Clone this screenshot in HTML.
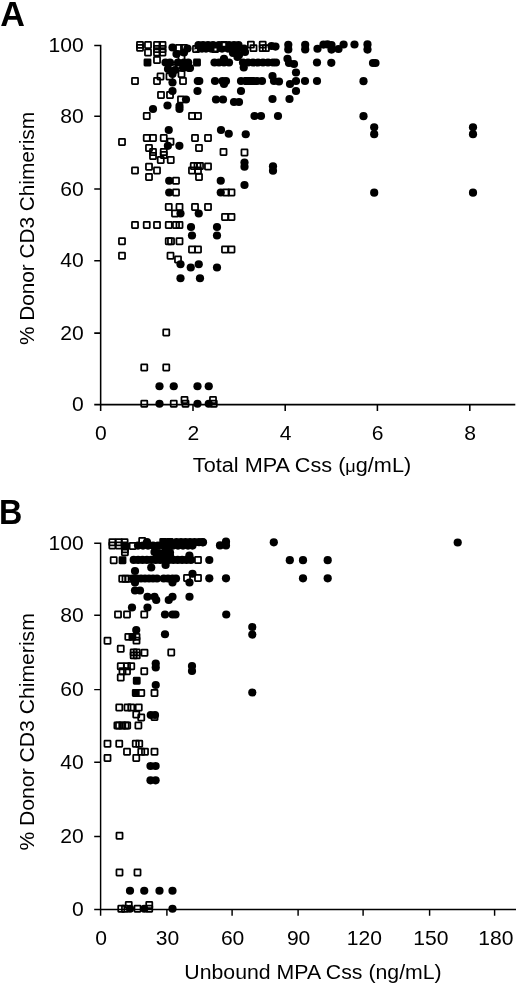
<!DOCTYPE html>
<html><head><meta charset="utf-8"><title>Figure</title>
<style>html,body{margin:0;padding:0;background:#fff}svg{display:block;will-change:transform}text{font-family:"Liberation Sans",sans-serif;fill:#000}</style></head><body>
<svg width="520" height="985" viewBox="0 0 520 985">
<rect width="520" height="985" fill="#fff"/>
<text transform="translate(0.3,25.5) scale(0.99,1)" font-size="34.5" text-anchor="start" font-weight="bold">A</text>
<text transform="translate(-1.0,524.3) scale(0.935,1)" font-size="34.5" text-anchor="start" font-weight="bold">B</text>
<path d="M100.65 44.73V410.90M94.25 404.6H515.3M94.25 45.5H100.65M94.25 116.2H100.65M94.25 188.9H100.65M94.25 260.8H100.65M94.25 333.1H100.65M193 404.6V410.90M285.2 404.6V410.90M377.4 404.6V410.90M469.8 404.6V410.90" stroke="#000" stroke-width="1.55" fill="none"/>
<text transform="translate(83.8,51.5) scale(1.055,1)" font-size="20" text-anchor="end">100</text>
<text transform="translate(83.8,122.8) scale(1.055,1)" font-size="20" text-anchor="end">80</text>
<text transform="translate(83.8,195.5) scale(1.055,1)" font-size="20" text-anchor="end">60</text>
<text transform="translate(83.8,267.4) scale(1.055,1)" font-size="20" text-anchor="end">40</text>
<text transform="translate(83.8,339.7) scale(1.055,1)" font-size="20" text-anchor="end">20</text>
<text transform="translate(83.8,411.2) scale(1.055,1)" font-size="20" text-anchor="end">0</text>
<text transform="translate(100.95,440.3) scale(1.055,1)" font-size="20" text-anchor="middle">0</text>
<text transform="translate(193.3,440.3) scale(1.055,1)" font-size="20" text-anchor="middle">2</text>
<text transform="translate(285.5,440.3) scale(1.055,1)" font-size="20" text-anchor="middle">4</text>
<text transform="translate(377.7,440.3) scale(1.055,1)" font-size="20" text-anchor="middle">6</text>
<text transform="translate(470.1,440.3) scale(1.055,1)" font-size="20" text-anchor="middle">8</text>
<text transform="translate(302,471.8) scale(1.095,1)" font-size="19.8" text-anchor="middle">Total MPA Css (<tspan font-size="16.5">μ</tspan>g/mL)</text>
<text transform="translate(33.6,228.5) rotate(-90) scale(1.013,1)" font-size="20.5" text-anchor="middle">% Donor CD3 Chimerism</text>
<path d="M100.6 542.48V915.80M94.20 909.4H516M94.20 543.2H100.6M94.20 615.25H100.6M94.20 689.6H100.6M94.20 762.25H100.6M94.20 836.5H100.6M166.9 909.4V915.80M232.1 909.4V915.80M298.1 909.4V915.80M363.1 909.4V915.80M429.6 909.4V915.80M494.6 909.4V915.80" stroke="#000" stroke-width="1.45" fill="none"/>
<text transform="translate(83.8,549.8) scale(1.055,1)" font-size="20" text-anchor="end">100</text>
<text transform="translate(83.8,621.9) scale(1.055,1)" font-size="20" text-anchor="end">80</text>
<text transform="translate(83.8,696.2) scale(1.055,1)" font-size="20" text-anchor="end">60</text>
<text transform="translate(83.8,768.9) scale(1.055,1)" font-size="20" text-anchor="end">40</text>
<text transform="translate(83.8,843.1) scale(1.055,1)" font-size="20" text-anchor="end">20</text>
<text transform="translate(83.8,916.0) scale(1.055,1)" font-size="20" text-anchor="end">0</text>
<text transform="translate(101.1,945.3) scale(1.055,1)" font-size="20" text-anchor="middle">0</text>
<text transform="translate(167.4,945.3) scale(1.055,1)" font-size="20" text-anchor="middle">30</text>
<text transform="translate(232.6,945.3) scale(1.055,1)" font-size="20" text-anchor="middle">60</text>
<text transform="translate(298.6,945.3) scale(1.055,1)" font-size="20" text-anchor="middle">90</text>
<text transform="translate(364.40000000000003,945.3) scale(1.055,1)" font-size="20" text-anchor="middle">120</text>
<text transform="translate(430.90000000000003,945.3) scale(1.055,1)" font-size="20" text-anchor="middle">150</text>
<text transform="translate(495.90000000000003,945.3) scale(1.055,1)" font-size="20" text-anchor="middle">180</text>
<text transform="translate(313,978.8) scale(1.075,1)" font-size="19.8" text-anchor="middle">Unbound MPA Css (ng/mL)</text>
<text transform="translate(34.2,731.9) rotate(-90) scale(1.013,1)" font-size="20.9" text-anchor="middle">% Donor CD3 Chimerism</text>
<g id="A">
<rect x="136.95" y="41.85" width="6.1" height="6.1" rx="0.5" fill="none" stroke="#000" stroke-width="1.75"/>
<rect x="136.95" y="44.75" width="6.1" height="6.1" rx="0.5" fill="none" stroke="#000" stroke-width="1.75"/>
<rect x="144.95" y="41.95" width="6.1" height="6.1" rx="0.5" fill="none" stroke="#000" stroke-width="1.75"/>
<rect x="144.95" y="49.45" width="6.1" height="6.1" rx="0.5" fill="none" stroke="#000" stroke-width="1.75"/>
<rect x="153.95" y="41.95" width="6.1" height="6.1" rx="0.5" fill="none" stroke="#000" stroke-width="1.75"/>
<rect x="153.95" y="45.95" width="6.1" height="6.1" rx="0.5" fill="none" stroke="#000" stroke-width="1.75"/>
<rect x="153.95" y="49.45" width="6.1" height="6.1" rx="0.5" fill="none" stroke="#000" stroke-width="1.75"/>
<rect x="153.95" y="56.95" width="6.1" height="6.1" rx="0.5" fill="none" stroke="#000" stroke-width="1.75"/>
<rect x="159.45" y="41.95" width="6.1" height="6.1" rx="0.5" fill="none" stroke="#000" stroke-width="1.75"/>
<rect x="159.45" y="45.95" width="6.1" height="6.1" rx="0.5" fill="none" stroke="#000" stroke-width="1.75"/>
<rect x="159.45" y="49.45" width="6.1" height="6.1" rx="0.5" fill="none" stroke="#000" stroke-width="1.75"/>
<rect x="175.95" y="44.95" width="6.1" height="6.1" rx="0.5" fill="none" stroke="#000" stroke-width="1.75"/>
<rect x="180.95" y="44.95" width="6.1" height="6.1" rx="0.5" fill="none" stroke="#000" stroke-width="1.75"/>
<rect x="178.45" y="54.45" width="6.1" height="6.1" rx="0.5" fill="none" stroke="#000" stroke-width="1.75"/>
<rect x="170.45" y="64.95" width="6.1" height="6.1" rx="0.5" fill="none" stroke="#000" stroke-width="1.75"/>
<rect x="175.95" y="61.95" width="6.1" height="6.1" rx="0.5" fill="none" stroke="#000" stroke-width="1.75"/>
<rect x="131.95" y="77.95" width="6.1" height="6.1" rx="0.5" fill="none" stroke="#000" stroke-width="1.75"/>
<rect x="153.95" y="77.95" width="6.1" height="6.1" rx="0.5" fill="none" stroke="#000" stroke-width="1.75"/>
<rect x="157.45" y="73.45" width="6.1" height="6.1" rx="0.5" fill="none" stroke="#000" stroke-width="1.75"/>
<rect x="166.45" y="73.45" width="6.1" height="6.1" rx="0.5" fill="none" stroke="#000" stroke-width="1.75"/>
<rect x="178.45" y="70.95" width="6.1" height="6.1" rx="0.5" fill="none" stroke="#000" stroke-width="1.75"/>
<rect x="179.95" y="77.95" width="6.1" height="6.1" rx="0.5" fill="none" stroke="#000" stroke-width="1.75"/>
<rect x="157.95" y="91.95" width="6.1" height="6.1" rx="0.5" fill="none" stroke="#000" stroke-width="1.75"/>
<rect x="166.95" y="91.95" width="6.1" height="6.1" rx="0.5" fill="none" stroke="#000" stroke-width="1.75"/>
<rect x="177.95" y="96.45" width="6.1" height="6.1" rx="0.5" fill="none" stroke="#000" stroke-width="1.75"/>
<rect x="143.70" y="112.95" width="6.1" height="6.1" rx="0.5" fill="none" stroke="#000" stroke-width="1.75"/>
<rect x="188.95" y="112.95" width="6.1" height="6.1" rx="0.5" fill="none" stroke="#000" stroke-width="1.75"/>
<rect x="194.95" y="112.95" width="6.1" height="6.1" rx="0.5" fill="none" stroke="#000" stroke-width="1.75"/>
<rect x="247.85" y="41.55" width="6.1" height="6.1" rx="0.5" fill="none" stroke="#000" stroke-width="1.75"/>
<rect x="250.45" y="45.05" width="6.1" height="6.1" rx="0.5" fill="none" stroke="#000" stroke-width="1.75"/>
<rect x="259.65" y="41.55" width="6.1" height="6.1" rx="0.5" fill="none" stroke="#000" stroke-width="1.75"/>
<rect x="259.65" y="45.05" width="6.1" height="6.1" rx="0.5" fill="none" stroke="#000" stroke-width="1.75"/>
<rect x="262.85" y="45.05" width="6.1" height="6.1" rx="0.5" fill="none" stroke="#000" stroke-width="1.75"/>
<rect x="192.95" y="45.95" width="6.1" height="6.1" rx="0.5" fill="none" stroke="#000" stroke-width="1.75"/>
<rect x="211.95" y="45.95" width="6.1" height="6.1" rx="0.5" fill="none" stroke="#000" stroke-width="1.75"/>
<rect x="220.95" y="41.95" width="6.1" height="6.1" rx="0.5" fill="none" stroke="#000" stroke-width="1.75"/>
<rect x="243.95" y="77.95" width="6.1" height="6.1" rx="0.5" fill="none" stroke="#000" stroke-width="1.75"/>
<rect x="247.95" y="77.95" width="6.1" height="6.1" rx="0.5" fill="none" stroke="#000" stroke-width="1.75"/>
<rect x="118.95" y="138.95" width="6.1" height="6.1" rx="0.5" fill="none" stroke="#000" stroke-width="1.75"/>
<rect x="143.70" y="134.95" width="6.1" height="6.1" rx="0.5" fill="none" stroke="#000" stroke-width="1.75"/>
<rect x="149.95" y="134.95" width="6.1" height="6.1" rx="0.5" fill="none" stroke="#000" stroke-width="1.75"/>
<rect x="160.70" y="134.95" width="6.1" height="6.1" rx="0.5" fill="none" stroke="#000" stroke-width="1.75"/>
<rect x="191.95" y="134.95" width="6.1" height="6.1" rx="0.5" fill="none" stroke="#000" stroke-width="1.75"/>
<rect x="204.95" y="134.95" width="6.1" height="6.1" rx="0.5" fill="none" stroke="#000" stroke-width="1.75"/>
<rect x="167.45" y="138.70" width="6.1" height="6.1" rx="0.5" fill="none" stroke="#000" stroke-width="1.75"/>
<rect x="145.95" y="144.95" width="6.1" height="6.1" rx="0.5" fill="none" stroke="#000" stroke-width="1.75"/>
<rect x="195.95" y="144.95" width="6.1" height="6.1" rx="0.5" fill="none" stroke="#000" stroke-width="1.75"/>
<rect x="149.95" y="148.95" width="6.1" height="6.1" rx="0.5" fill="none" stroke="#000" stroke-width="1.75"/>
<rect x="160.70" y="148.95" width="6.1" height="6.1" rx="0.5" fill="none" stroke="#000" stroke-width="1.75"/>
<rect x="220.45" y="148.95" width="6.1" height="6.1" rx="0.5" fill="none" stroke="#000" stroke-width="1.75"/>
<rect x="241.45" y="149.45" width="6.1" height="6.1" rx="0.5" fill="none" stroke="#000" stroke-width="1.75"/>
<rect x="149.95" y="152.95" width="6.1" height="6.1" rx="0.5" fill="none" stroke="#000" stroke-width="1.75"/>
<rect x="160.70" y="151.95" width="6.1" height="6.1" rx="0.5" fill="none" stroke="#000" stroke-width="1.75"/>
<rect x="157.70" y="156.95" width="6.1" height="6.1" rx="0.5" fill="none" stroke="#000" stroke-width="1.75"/>
<rect x="167.70" y="156.95" width="6.1" height="6.1" rx="0.5" fill="none" stroke="#000" stroke-width="1.75"/>
<rect x="145.95" y="163.70" width="6.1" height="6.1" rx="0.5" fill="none" stroke="#000" stroke-width="1.75"/>
<rect x="190.70" y="162.95" width="6.1" height="6.1" rx="0.5" fill="none" stroke="#000" stroke-width="1.75"/>
<rect x="194.45" y="162.95" width="6.1" height="6.1" rx="0.5" fill="none" stroke="#000" stroke-width="1.75"/>
<rect x="196.95" y="162.95" width="6.1" height="6.1" rx="0.5" fill="none" stroke="#000" stroke-width="1.75"/>
<rect x="204.95" y="163.45" width="6.1" height="6.1" rx="0.5" fill="none" stroke="#000" stroke-width="1.75"/>
<rect x="131.95" y="167.45" width="6.1" height="6.1" rx="0.5" fill="none" stroke="#000" stroke-width="1.75"/>
<rect x="153.95" y="167.45" width="6.1" height="6.1" rx="0.5" fill="none" stroke="#000" stroke-width="1.75"/>
<rect x="188.95" y="167.45" width="6.1" height="6.1" rx="0.5" fill="none" stroke="#000" stroke-width="1.75"/>
<rect x="194.95" y="167.45" width="6.1" height="6.1" rx="0.5" fill="none" stroke="#000" stroke-width="1.75"/>
<rect x="145.95" y="173.95" width="6.1" height="6.1" rx="0.5" fill="none" stroke="#000" stroke-width="1.75"/>
<rect x="195.95" y="173.95" width="6.1" height="6.1" rx="0.5" fill="none" stroke="#000" stroke-width="1.75"/>
<rect x="172.95" y="177.70" width="6.1" height="6.1" rx="0.5" fill="none" stroke="#000" stroke-width="1.75"/>
<rect x="172.95" y="189.45" width="6.1" height="6.1" rx="0.5" fill="none" stroke="#000" stroke-width="1.75"/>
<rect x="222.95" y="189.45" width="6.1" height="6.1" rx="0.5" fill="none" stroke="#000" stroke-width="1.75"/>
<rect x="228.45" y="189.45" width="6.1" height="6.1" rx="0.5" fill="none" stroke="#000" stroke-width="1.75"/>
<rect x="165.70" y="203.95" width="6.1" height="6.1" rx="0.5" fill="none" stroke="#000" stroke-width="1.75"/>
<rect x="176.45" y="203.95" width="6.1" height="6.1" rx="0.5" fill="none" stroke="#000" stroke-width="1.75"/>
<rect x="191.95" y="203.95" width="6.1" height="6.1" rx="0.5" fill="none" stroke="#000" stroke-width="1.75"/>
<rect x="204.95" y="203.95" width="6.1" height="6.1" rx="0.5" fill="none" stroke="#000" stroke-width="1.75"/>
<rect x="171.95" y="210.45" width="6.1" height="6.1" rx="0.5" fill="none" stroke="#000" stroke-width="1.75"/>
<rect x="221.95" y="213.95" width="6.1" height="6.1" rx="0.5" fill="none" stroke="#000" stroke-width="1.75"/>
<rect x="228.45" y="213.95" width="6.1" height="6.1" rx="0.5" fill="none" stroke="#000" stroke-width="1.75"/>
<rect x="131.95" y="221.95" width="6.1" height="6.1" rx="0.5" fill="none" stroke="#000" stroke-width="1.75"/>
<rect x="143.70" y="221.95" width="6.1" height="6.1" rx="0.5" fill="none" stroke="#000" stroke-width="1.75"/>
<rect x="153.95" y="221.95" width="6.1" height="6.1" rx="0.5" fill="none" stroke="#000" stroke-width="1.75"/>
<rect x="165.70" y="221.95" width="6.1" height="6.1" rx="0.5" fill="none" stroke="#000" stroke-width="1.75"/>
<rect x="172.95" y="221.95" width="6.1" height="6.1" rx="0.5" fill="none" stroke="#000" stroke-width="1.75"/>
<rect x="176.45" y="221.95" width="6.1" height="6.1" rx="0.5" fill="none" stroke="#000" stroke-width="1.75"/>
<rect x="118.95" y="238.20" width="6.1" height="6.1" rx="0.5" fill="none" stroke="#000" stroke-width="1.75"/>
<rect x="165.70" y="238.20" width="6.1" height="6.1" rx="0.5" fill="none" stroke="#000" stroke-width="1.75"/>
<rect x="167.95" y="238.20" width="6.1" height="6.1" rx="0.5" fill="none" stroke="#000" stroke-width="1.75"/>
<rect x="176.45" y="238.20" width="6.1" height="6.1" rx="0.5" fill="none" stroke="#000" stroke-width="1.75"/>
<rect x="188.95" y="246.45" width="6.1" height="6.1" rx="0.5" fill="none" stroke="#000" stroke-width="1.75"/>
<rect x="194.95" y="246.45" width="6.1" height="6.1" rx="0.5" fill="none" stroke="#000" stroke-width="1.75"/>
<rect x="221.95" y="246.45" width="6.1" height="6.1" rx="0.5" fill="none" stroke="#000" stroke-width="1.75"/>
<rect x="228.45" y="246.45" width="6.1" height="6.1" rx="0.5" fill="none" stroke="#000" stroke-width="1.75"/>
<rect x="118.95" y="252.70" width="6.1" height="6.1" rx="0.5" fill="none" stroke="#000" stroke-width="1.75"/>
<rect x="167.45" y="252.70" width="6.1" height="6.1" rx="0.5" fill="none" stroke="#000" stroke-width="1.75"/>
<rect x="174.95" y="256.45" width="6.1" height="6.1" rx="0.5" fill="none" stroke="#000" stroke-width="1.75"/>
<rect x="163.20" y="329.45" width="6.1" height="6.1" rx="0.5" fill="none" stroke="#000" stroke-width="1.75"/>
<rect x="141.20" y="364.45" width="6.1" height="6.1" rx="0.5" fill="none" stroke="#000" stroke-width="1.75"/>
<rect x="163.20" y="364.45" width="6.1" height="6.1" rx="0.5" fill="none" stroke="#000" stroke-width="1.75"/>
<rect x="141.20" y="400.70" width="6.1" height="6.1" rx="0.5" fill="none" stroke="#000" stroke-width="1.75"/>
<rect x="170.70" y="400.70" width="6.1" height="6.1" rx="0.5" fill="none" stroke="#000" stroke-width="1.75"/>
<rect x="182.45" y="400.70" width="6.1" height="6.1" rx="0.5" fill="none" stroke="#000" stroke-width="1.75"/>
<rect x="210.70" y="400.70" width="6.1" height="6.1" rx="0.5" fill="none" stroke="#000" stroke-width="1.75"/>
<rect x="181.45" y="396.95" width="6.1" height="6.1" rx="0.5" fill="none" stroke="#000" stroke-width="1.75"/>
<rect x="209.95" y="396.95" width="6.1" height="6.1" rx="0.5" fill="none" stroke="#000" stroke-width="1.75"/>
<rect x="144.45" y="59.45" width="6.1" height="6.1" rx="0.5" fill="#000" stroke="#000" stroke-width="1.75"/>
<rect x="193.95" y="59.45" width="6.1" height="6.1" rx="0.5" fill="#000" stroke="#000" stroke-width="1.75"/>
<circle cx="172.50" cy="47.50" r="4.1"/>
<circle cx="187.50" cy="48.50" r="4.1"/>
<circle cx="176.50" cy="54.00" r="4.1"/>
<circle cx="184.00" cy="52.50" r="4.1"/>
<circle cx="198.50" cy="45.00" r="4.1"/>
<circle cx="203.00" cy="45.00" r="4.1"/>
<circle cx="208.00" cy="45.00" r="4.1"/>
<circle cx="213.00" cy="45.00" r="4.1"/>
<circle cx="219.00" cy="45.00" r="4.1"/>
<circle cx="224.00" cy="45.00" r="4.1"/>
<circle cx="229.00" cy="45.00" r="4.1"/>
<circle cx="234.00" cy="45.00" r="4.1"/>
<circle cx="238.50" cy="45.00" r="4.1"/>
<circle cx="198.50" cy="48.60" r="4.1"/>
<circle cx="202.00" cy="48.60" r="4.1"/>
<circle cx="206.00" cy="48.60" r="4.1"/>
<circle cx="211.00" cy="48.60" r="4.1"/>
<circle cx="217.00" cy="48.60" r="4.1"/>
<circle cx="222.00" cy="48.60" r="4.1"/>
<circle cx="228.00" cy="48.60" r="4.1"/>
<circle cx="233.00" cy="48.60" r="4.1"/>
<circle cx="238.00" cy="48.60" r="4.1"/>
<circle cx="244.00" cy="48.60" r="4.1"/>
<circle cx="233.00" cy="53.00" r="4.1"/>
<circle cx="239.00" cy="55.00" r="4.1"/>
<circle cx="245.00" cy="52.00" r="4.1"/>
<circle cx="237.50" cy="57.00" r="4.1"/>
<circle cx="271.50" cy="46.00" r="4.1"/>
<circle cx="275.50" cy="46.60" r="4.1"/>
<circle cx="288.30" cy="44.80" r="4.1"/>
<circle cx="288.30" cy="49.40" r="4.1"/>
<circle cx="305.20" cy="44.80" r="4.1"/>
<circle cx="305.20" cy="49.40" r="4.1"/>
<circle cx="317.50" cy="48.75" r="4.1"/>
<circle cx="323.50" cy="44.60" r="4.1"/>
<circle cx="327.50" cy="44.40" r="4.1"/>
<circle cx="331.50" cy="45.00" r="4.1"/>
<circle cx="331.50" cy="49.60" r="4.1"/>
<circle cx="338.50" cy="49.00" r="4.1"/>
<circle cx="343.60" cy="44.50" r="4.1"/>
<circle cx="354.50" cy="44.50" r="4.1"/>
<circle cx="367.50" cy="44.40" r="4.1"/>
<circle cx="367.50" cy="49.60" r="4.1"/>
<circle cx="165.50" cy="62.50" r="4.1"/>
<circle cx="170.00" cy="62.50" r="4.1"/>
<circle cx="178.00" cy="62.50" r="4.1"/>
<circle cx="184.00" cy="62.50" r="4.1"/>
<circle cx="188.20" cy="62.50" r="4.1"/>
<circle cx="214.50" cy="62.50" r="4.1"/>
<circle cx="219.00" cy="62.50" r="4.1"/>
<circle cx="224.00" cy="62.50" r="4.1"/>
<circle cx="229.00" cy="62.50" r="4.1"/>
<circle cx="243.00" cy="62.50" r="4.1"/>
<circle cx="248.00" cy="62.50" r="4.1"/>
<circle cx="253.00" cy="62.50" r="4.1"/>
<circle cx="258.00" cy="62.50" r="4.1"/>
<circle cx="263.00" cy="62.50" r="4.1"/>
<circle cx="268.00" cy="62.50" r="4.1"/>
<circle cx="273.00" cy="62.50" r="4.1"/>
<circle cx="276.00" cy="62.50" r="4.1"/>
<circle cx="224.00" cy="58.75" r="4.1"/>
<circle cx="243.75" cy="67.50" r="4.1"/>
<circle cx="190.00" cy="68.00" r="4.1"/>
<circle cx="287.50" cy="58.75" r="4.1"/>
<circle cx="289.00" cy="63.00" r="4.1"/>
<circle cx="294.00" cy="64.00" r="4.1"/>
<circle cx="317.00" cy="62.50" r="4.1"/>
<circle cx="331.30" cy="62.80" r="4.1"/>
<circle cx="373.00" cy="63.00" r="4.1"/>
<circle cx="375.50" cy="63.00" r="4.1"/>
<circle cx="168.00" cy="69.00" r="4.1"/>
<circle cx="175.00" cy="70.00" r="4.1"/>
<circle cx="183.00" cy="68.00" r="4.1"/>
<circle cx="189.00" cy="68.00" r="4.1"/>
<circle cx="172.50" cy="74.00" r="4.1"/>
<circle cx="172.50" cy="82.50" r="4.1"/>
<circle cx="296.00" cy="72.50" r="4.1"/>
<circle cx="272.50" cy="76.00" r="4.1"/>
<circle cx="197.80" cy="81.00" r="4.1"/>
<circle cx="199.30" cy="81.00" r="4.1"/>
<circle cx="248.00" cy="81.00" r="4.1"/>
<circle cx="253.00" cy="81.00" r="4.1"/>
<circle cx="215.00" cy="81.00" r="4.1"/>
<circle cx="222.50" cy="81.00" r="4.1"/>
<circle cx="226.00" cy="81.00" r="4.1"/>
<circle cx="224.00" cy="84.00" r="4.1"/>
<circle cx="241.00" cy="81.00" r="4.1"/>
<circle cx="257.00" cy="81.00" r="4.1"/>
<circle cx="262.00" cy="81.00" r="4.1"/>
<circle cx="274.00" cy="81.00" r="4.1"/>
<circle cx="279.00" cy="81.50" r="4.1"/>
<circle cx="290.00" cy="84.00" r="4.1"/>
<circle cx="296.00" cy="81.00" r="4.1"/>
<circle cx="305.00" cy="81.00" r="4.1"/>
<circle cx="317.00" cy="81.00" r="4.1"/>
<circle cx="363.50" cy="81.20" r="4.1"/>
<circle cx="172.50" cy="91.00" r="4.1"/>
<circle cx="197.50" cy="91.00" r="4.1"/>
<circle cx="241.00" cy="91.00" r="4.1"/>
<circle cx="296.00" cy="91.00" r="4.1"/>
<circle cx="186.00" cy="99.50" r="4.1"/>
<circle cx="216.00" cy="99.50" r="4.1"/>
<circle cx="223.00" cy="99.50" r="4.1"/>
<circle cx="272.50" cy="99.00" r="4.1"/>
<circle cx="289.50" cy="99.00" r="4.1"/>
<circle cx="234.00" cy="102.00" r="4.1"/>
<circle cx="239.00" cy="102.00" r="4.1"/>
<circle cx="167.50" cy="105.50" r="4.1"/>
<circle cx="179.50" cy="106.00" r="4.1"/>
<circle cx="179.50" cy="109.00" r="4.1"/>
<circle cx="153.00" cy="109.00" r="4.1"/>
<circle cx="254.50" cy="116.00" r="4.1"/>
<circle cx="261.00" cy="116.00" r="4.1"/>
<circle cx="278.00" cy="116.00" r="4.1"/>
<circle cx="363.50" cy="116.20" r="4.1"/>
<circle cx="168.75" cy="130.00" r="4.1"/>
<circle cx="221.00" cy="130.00" r="4.1"/>
<circle cx="228.75" cy="133.75" r="4.1"/>
<circle cx="245.75" cy="134.25" r="4.1"/>
<circle cx="374.20" cy="127.30" r="4.1"/>
<circle cx="374.20" cy="134.20" r="4.1"/>
<circle cx="473.00" cy="127.30" r="4.1"/>
<circle cx="473.00" cy="134.20" r="4.1"/>
<circle cx="374.20" cy="192.70" r="4.1"/>
<circle cx="473.00" cy="192.70" r="4.1"/>
<circle cx="167.90" cy="145.80" r="4.1"/>
<circle cx="179.40" cy="145.80" r="4.1"/>
<circle cx="244.50" cy="162.50" r="4.1"/>
<circle cx="244.50" cy="166.75" r="4.1"/>
<circle cx="273.00" cy="166.25" r="4.1"/>
<circle cx="273.00" cy="170.75" r="4.1"/>
<circle cx="169.20" cy="180.75" r="4.1"/>
<circle cx="220.75" cy="180.75" r="4.1"/>
<circle cx="244.50" cy="185.00" r="4.1"/>
<circle cx="169.20" cy="192.50" r="4.1"/>
<circle cx="220.75" cy="192.50" r="4.1"/>
<circle cx="180.50" cy="213.50" r="4.1"/>
<circle cx="198.75" cy="213.50" r="4.1"/>
<circle cx="191.00" cy="227.00" r="4.1"/>
<circle cx="217.00" cy="227.00" r="4.1"/>
<circle cx="192.00" cy="235.50" r="4.1"/>
<circle cx="217.00" cy="235.50" r="4.1"/>
<circle cx="180.50" cy="264.25" r="4.1"/>
<circle cx="198.75" cy="264.25" r="4.1"/>
<circle cx="190.75" cy="267.50" r="4.1"/>
<circle cx="217.00" cy="267.50" r="4.1"/>
<circle cx="180.50" cy="278.25" r="4.1"/>
<circle cx="200.00" cy="278.25" r="4.1"/>
<circle cx="159.50" cy="386.25" r="4.1"/>
<circle cx="173.75" cy="386.25" r="4.1"/>
<circle cx="197.50" cy="386.25" r="4.1"/>
<circle cx="208.75" cy="386.25" r="4.1"/>
<circle cx="159.50" cy="403.75" r="4.1"/>
<circle cx="197.50" cy="403.75" r="4.1"/>
<circle cx="208.75" cy="403.75" r="4.1"/>
</g><g id="B">
<rect x="109.30" y="539.15" width="6.1" height="6.1" rx="0.5" fill="none" stroke="#000" stroke-width="1.75"/>
<rect x="109.30" y="542.45" width="6.1" height="6.1" rx="0.5" fill="none" stroke="#000" stroke-width="1.75"/>
<rect x="115.75" y="539.15" width="6.1" height="6.1" rx="0.5" fill="none" stroke="#000" stroke-width="1.75"/>
<rect x="115.75" y="542.45" width="6.1" height="6.1" rx="0.5" fill="none" stroke="#000" stroke-width="1.75"/>
<rect x="121.55" y="539.15" width="6.1" height="6.1" rx="0.5" fill="none" stroke="#000" stroke-width="1.75"/>
<rect x="121.55" y="542.45" width="6.1" height="6.1" rx="0.5" fill="none" stroke="#000" stroke-width="1.75"/>
<rect x="129.65" y="542.95" width="6.1" height="6.1" rx="0.5" fill="none" stroke="#000" stroke-width="1.75"/>
<rect x="139.15" y="537.95" width="6.1" height="6.1" rx="0.5" fill="none" stroke="#000" stroke-width="1.75"/>
<rect x="121.85" y="546.35" width="6.1" height="6.1" rx="0.5" fill="none" stroke="#000" stroke-width="1.75"/>
<rect x="121.85" y="549.15" width="6.1" height="6.1" rx="0.5" fill="none" stroke="#000" stroke-width="1.75"/>
<rect x="110.65" y="557.15" width="6.1" height="6.1" rx="0.5" fill="none" stroke="#000" stroke-width="1.75"/>
<rect x="119.20" y="575.70" width="6.1" height="6.1" rx="0.5" fill="none" stroke="#000" stroke-width="1.75"/>
<rect x="122.45" y="575.70" width="6.1" height="6.1" rx="0.5" fill="none" stroke="#000" stroke-width="1.75"/>
<rect x="125.45" y="575.70" width="6.1" height="6.1" rx="0.5" fill="none" stroke="#000" stroke-width="1.75"/>
<rect x="194.95" y="556.95" width="6.1" height="6.1" rx="0.5" fill="none" stroke="#000" stroke-width="1.75"/>
<rect x="183.95" y="574.95" width="6.1" height="6.1" rx="0.5" fill="none" stroke="#000" stroke-width="1.75"/>
<rect x="194.95" y="574.95" width="6.1" height="6.1" rx="0.5" fill="none" stroke="#000" stroke-width="1.75"/>
<rect x="114.95" y="611.45" width="6.1" height="6.1" rx="0.5" fill="none" stroke="#000" stroke-width="1.75"/>
<rect x="123.95" y="611.45" width="6.1" height="6.1" rx="0.5" fill="none" stroke="#000" stroke-width="1.75"/>
<rect x="141.20" y="611.45" width="6.1" height="6.1" rx="0.5" fill="none" stroke="#000" stroke-width="1.75"/>
<rect x="125.25" y="633.75" width="6.1" height="6.1" rx="0.5" fill="none" stroke="#000" stroke-width="1.75"/>
<rect x="133.45" y="633.75" width="6.1" height="6.1" rx="0.5" fill="none" stroke="#000" stroke-width="1.75"/>
<rect x="104.45" y="637.70" width="6.1" height="6.1" rx="0.5" fill="none" stroke="#000" stroke-width="1.75"/>
<rect x="133.45" y="637.55" width="6.1" height="6.1" rx="0.5" fill="none" stroke="#000" stroke-width="1.75"/>
<rect x="117.70" y="645.70" width="6.1" height="6.1" rx="0.5" fill="none" stroke="#000" stroke-width="1.75"/>
<rect x="130.60" y="649.35" width="6.1" height="6.1" rx="0.5" fill="none" stroke="#000" stroke-width="1.75"/>
<rect x="133.70" y="649.35" width="6.1" height="6.1" rx="0.5" fill="none" stroke="#000" stroke-width="1.75"/>
<rect x="141.45" y="649.65" width="6.1" height="6.1" rx="0.5" fill="none" stroke="#000" stroke-width="1.75"/>
<rect x="168.20" y="649.45" width="6.1" height="6.1" rx="0.5" fill="none" stroke="#000" stroke-width="1.75"/>
<rect x="130.60" y="652.30" width="6.1" height="6.1" rx="0.5" fill="none" stroke="#000" stroke-width="1.75"/>
<rect x="133.70" y="652.30" width="6.1" height="6.1" rx="0.5" fill="none" stroke="#000" stroke-width="1.75"/>
<rect x="117.70" y="663.20" width="6.1" height="6.1" rx="0.5" fill="none" stroke="#000" stroke-width="1.75"/>
<rect x="123.95" y="663.20" width="6.1" height="6.1" rx="0.5" fill="none" stroke="#000" stroke-width="1.75"/>
<rect x="128.20" y="663.20" width="6.1" height="6.1" rx="0.5" fill="none" stroke="#000" stroke-width="1.75"/>
<rect x="119.45" y="668.20" width="6.1" height="6.1" rx="0.5" fill="none" stroke="#000" stroke-width="1.75"/>
<rect x="123.95" y="668.20" width="6.1" height="6.1" rx="0.5" fill="none" stroke="#000" stroke-width="1.75"/>
<rect x="141.20" y="668.20" width="6.1" height="6.1" rx="0.5" fill="none" stroke="#000" stroke-width="1.75"/>
<rect x="117.70" y="674.45" width="6.1" height="6.1" rx="0.5" fill="none" stroke="#000" stroke-width="1.75"/>
<rect x="138.20" y="689.95" width="6.1" height="6.1" rx="0.5" fill="none" stroke="#000" stroke-width="1.75"/>
<rect x="151.45" y="689.95" width="6.1" height="6.1" rx="0.5" fill="none" stroke="#000" stroke-width="1.75"/>
<rect x="116.20" y="704.45" width="6.1" height="6.1" rx="0.5" fill="none" stroke="#000" stroke-width="1.75"/>
<rect x="124.45" y="704.45" width="6.1" height="6.1" rx="0.5" fill="none" stroke="#000" stroke-width="1.75"/>
<rect x="128.20" y="704.45" width="6.1" height="6.1" rx="0.5" fill="none" stroke="#000" stroke-width="1.75"/>
<rect x="135.70" y="704.45" width="6.1" height="6.1" rx="0.5" fill="none" stroke="#000" stroke-width="1.75"/>
<rect x="133.20" y="711.45" width="6.1" height="6.1" rx="0.5" fill="none" stroke="#000" stroke-width="1.75"/>
<rect x="138.20" y="714.45" width="6.1" height="6.1" rx="0.5" fill="none" stroke="#000" stroke-width="1.75"/>
<rect x="151.45" y="713.95" width="6.1" height="6.1" rx="0.5" fill="none" stroke="#000" stroke-width="1.75"/>
<rect x="114.35" y="722.45" width="6.1" height="6.1" rx="0.5" fill="none" stroke="#000" stroke-width="1.75"/>
<rect x="115.95" y="722.45" width="6.1" height="6.1" rx="0.5" fill="none" stroke="#000" stroke-width="1.75"/>
<rect x="119.25" y="722.45" width="6.1" height="6.1" rx="0.5" fill="none" stroke="#000" stroke-width="1.75"/>
<rect x="122.55" y="722.45" width="6.1" height="6.1" rx="0.5" fill="none" stroke="#000" stroke-width="1.75"/>
<rect x="124.15" y="722.45" width="6.1" height="6.1" rx="0.5" fill="none" stroke="#000" stroke-width="1.75"/>
<rect x="135.35" y="722.45" width="6.1" height="6.1" rx="0.5" fill="none" stroke="#000" stroke-width="1.75"/>
<rect x="104.45" y="740.70" width="6.1" height="6.1" rx="0.5" fill="none" stroke="#000" stroke-width="1.75"/>
<rect x="116.20" y="740.70" width="6.1" height="6.1" rx="0.5" fill="none" stroke="#000" stroke-width="1.75"/>
<rect x="132.70" y="740.70" width="6.1" height="6.1" rx="0.5" fill="none" stroke="#000" stroke-width="1.75"/>
<rect x="136.20" y="740.70" width="6.1" height="6.1" rx="0.5" fill="none" stroke="#000" stroke-width="1.75"/>
<rect x="123.95" y="748.70" width="6.1" height="6.1" rx="0.5" fill="none" stroke="#000" stroke-width="1.75"/>
<rect x="138.20" y="748.70" width="6.1" height="6.1" rx="0.5" fill="none" stroke="#000" stroke-width="1.75"/>
<rect x="141.95" y="748.70" width="6.1" height="6.1" rx="0.5" fill="none" stroke="#000" stroke-width="1.75"/>
<rect x="151.45" y="748.70" width="6.1" height="6.1" rx="0.5" fill="none" stroke="#000" stroke-width="1.75"/>
<rect x="104.45" y="754.95" width="6.1" height="6.1" rx="0.5" fill="none" stroke="#000" stroke-width="1.75"/>
<rect x="133.20" y="754.95" width="6.1" height="6.1" rx="0.5" fill="none" stroke="#000" stroke-width="1.75"/>
<rect x="116.45" y="832.70" width="6.1" height="6.1" rx="0.5" fill="none" stroke="#000" stroke-width="1.75"/>
<rect x="116.45" y="869.45" width="6.1" height="6.1" rx="0.5" fill="none" stroke="#000" stroke-width="1.75"/>
<rect x="134.45" y="869.45" width="6.1" height="6.1" rx="0.5" fill="none" stroke="#000" stroke-width="1.75"/>
<rect x="118.20" y="905.70" width="6.1" height="6.1" rx="0.5" fill="none" stroke="#000" stroke-width="1.75"/>
<rect x="121.95" y="905.70" width="6.1" height="6.1" rx="0.5" fill="none" stroke="#000" stroke-width="1.75"/>
<rect x="134.45" y="905.70" width="6.1" height="6.1" rx="0.5" fill="none" stroke="#000" stroke-width="1.75"/>
<rect x="146.20" y="905.70" width="6.1" height="6.1" rx="0.5" fill="none" stroke="#000" stroke-width="1.75"/>
<rect x="125.70" y="901.95" width="6.1" height="6.1" rx="0.5" fill="none" stroke="#000" stroke-width="1.75"/>
<rect x="146.20" y="901.95" width="6.1" height="6.1" rx="0.5" fill="none" stroke="#000" stroke-width="1.75"/>
<rect x="129.35" y="633.75" width="6.1" height="6.1" rx="0.5" fill="#000" stroke="#000" stroke-width="1.75"/>
<rect x="133.70" y="677.70" width="6.1" height="6.1" rx="0.5" fill="#000" stroke="#000" stroke-width="1.75"/>
<rect x="132.70" y="689.95" width="6.1" height="6.1" rx="0.5" fill="#000" stroke="#000" stroke-width="1.75"/>
<rect x="122.25" y="543.55" width="6.1" height="6.1" rx="0.5" fill="#000" stroke="#000" stroke-width="1.75"/>
<rect x="119.45" y="557.15" width="6.1" height="6.1" rx="0.5" fill="#000" stroke="#000" stroke-width="1.75"/>
<rect x="160.15" y="538.85" width="6.1" height="6.1" rx="0.5" fill="#000" stroke="#000" stroke-width="1.75"/>
<rect x="166.75" y="538.85" width="6.1" height="6.1" rx="0.5" fill="#000" stroke="#000" stroke-width="1.75"/>
<circle cx="147.00" cy="542.20" r="4.1"/>
<circle cx="176.50" cy="542.20" r="4.1"/>
<circle cx="181.00" cy="542.20" r="4.1"/>
<circle cx="185.50" cy="542.20" r="4.1"/>
<circle cx="190.00" cy="542.20" r="4.1"/>
<circle cx="194.50" cy="542.20" r="4.1"/>
<circle cx="199.00" cy="542.20" r="4.1"/>
<circle cx="202.50" cy="542.20" r="4.1"/>
<circle cx="138.00" cy="545.60" r="4.1"/>
<circle cx="143.00" cy="545.60" r="4.1"/>
<circle cx="148.00" cy="545.60" r="4.1"/>
<circle cx="153.00" cy="545.60" r="4.1"/>
<circle cx="158.00" cy="545.60" r="4.1"/>
<circle cx="163.00" cy="545.60" r="4.1"/>
<circle cx="168.00" cy="545.60" r="4.1"/>
<circle cx="173.00" cy="545.60" r="4.1"/>
<circle cx="178.00" cy="545.60" r="4.1"/>
<circle cx="183.00" cy="545.60" r="4.1"/>
<circle cx="188.00" cy="545.60" r="4.1"/>
<circle cx="192.50" cy="545.60" r="4.1"/>
<circle cx="154.50" cy="552.00" r="4.1"/>
<circle cx="159.00" cy="553.00" r="4.1"/>
<circle cx="165.00" cy="552.00" r="4.1"/>
<circle cx="170.00" cy="552.50" r="4.1"/>
<circle cx="170.00" cy="555.50" r="4.1"/>
<circle cx="162.00" cy="556.00" r="4.1"/>
<circle cx="157.00" cy="556.00" r="4.1"/>
<circle cx="203.00" cy="542.30" r="4.1"/>
<circle cx="220.00" cy="545.40" r="4.1"/>
<circle cx="226.00" cy="541.70" r="4.1"/>
<circle cx="226.00" cy="545.40" r="4.1"/>
<circle cx="273.80" cy="542.30" r="4.1"/>
<circle cx="457.70" cy="542.50" r="4.1"/>
<circle cx="133.70" cy="559.90" r="4.1"/>
<circle cx="138.10" cy="559.90" r="4.1"/>
<circle cx="142.50" cy="559.90" r="4.1"/>
<circle cx="146.90" cy="559.90" r="4.1"/>
<circle cx="151.30" cy="559.90" r="4.1"/>
<circle cx="155.70" cy="559.90" r="4.1"/>
<circle cx="160.10" cy="559.90" r="4.1"/>
<circle cx="164.50" cy="559.90" r="4.1"/>
<circle cx="168.90" cy="559.90" r="4.1"/>
<circle cx="173.30" cy="559.90" r="4.1"/>
<circle cx="177.70" cy="559.90" r="4.1"/>
<circle cx="182.10" cy="559.90" r="4.1"/>
<circle cx="186.50" cy="559.90" r="4.1"/>
<circle cx="190.90" cy="559.90" r="4.1"/>
<circle cx="189.40" cy="555.60" r="4.1"/>
<circle cx="209.30" cy="560.00" r="4.1"/>
<circle cx="289.80" cy="560.20" r="4.1"/>
<circle cx="303.00" cy="560.20" r="4.1"/>
<circle cx="327.70" cy="560.20" r="4.1"/>
<circle cx="151.25" cy="567.50" r="4.1"/>
<circle cx="165.60" cy="565.00" r="4.1"/>
<circle cx="133.00" cy="578.50" r="4.1"/>
<circle cx="137.00" cy="578.50" r="4.1"/>
<circle cx="141.00" cy="578.50" r="4.1"/>
<circle cx="145.00" cy="578.50" r="4.1"/>
<circle cx="149.00" cy="578.50" r="4.1"/>
<circle cx="153.00" cy="578.50" r="4.1"/>
<circle cx="157.00" cy="578.50" r="4.1"/>
<circle cx="163.75" cy="578.50" r="4.1"/>
<circle cx="168.00" cy="578.50" r="4.1"/>
<circle cx="172.50" cy="578.50" r="4.1"/>
<circle cx="176.00" cy="578.50" r="4.1"/>
<circle cx="209.30" cy="578.30" r="4.1"/>
<circle cx="226.00" cy="578.30" r="4.1"/>
<circle cx="303.00" cy="578.30" r="4.1"/>
<circle cx="327.70" cy="578.30" r="4.1"/>
<circle cx="135.00" cy="571.00" r="4.1"/>
<circle cx="135.00" cy="582.50" r="4.1"/>
<circle cx="172.50" cy="582.50" r="4.1"/>
<circle cx="189.50" cy="582.50" r="4.1"/>
<circle cx="192.50" cy="573.75" r="4.1"/>
<circle cx="135.00" cy="590.50" r="4.1"/>
<circle cx="140.00" cy="590.50" r="4.1"/>
<circle cx="147.50" cy="596.75" r="4.1"/>
<circle cx="154.50" cy="596.75" r="4.1"/>
<circle cx="172.50" cy="596.75" r="4.1"/>
<circle cx="189.50" cy="596.75" r="4.1"/>
<circle cx="156.25" cy="600.00" r="4.1"/>
<circle cx="168.75" cy="600.00" r="4.1"/>
<circle cx="132.00" cy="607.50" r="4.1"/>
<circle cx="147.50" cy="607.50" r="4.1"/>
<circle cx="165.00" cy="614.50" r="4.1"/>
<circle cx="172.50" cy="614.50" r="4.1"/>
<circle cx="175.50" cy="614.50" r="4.1"/>
<circle cx="226.25" cy="614.50" r="4.1"/>
<circle cx="136.25" cy="630.00" r="4.1"/>
<circle cx="165.00" cy="634.25" r="4.1"/>
<circle cx="155.75" cy="663.50" r="4.1"/>
<circle cx="155.75" cy="667.50" r="4.1"/>
<circle cx="192.00" cy="666.00" r="4.1"/>
<circle cx="192.00" cy="671.00" r="4.1"/>
<circle cx="155.75" cy="685.00" r="4.1"/>
<circle cx="150.75" cy="715.00" r="4.1"/>
<circle cx="155.00" cy="715.00" r="4.1"/>
<circle cx="150.50" cy="766.00" r="4.1"/>
<circle cx="155.60" cy="766.00" r="4.1"/>
<circle cx="150.50" cy="780.30" r="4.1"/>
<circle cx="155.60" cy="780.30" r="4.1"/>
<circle cx="252.30" cy="627.00" r="4.1"/>
<circle cx="252.30" cy="634.60" r="4.1"/>
<circle cx="252.30" cy="692.50" r="4.1"/>
<circle cx="130.00" cy="890.75" r="4.1"/>
<circle cx="144.25" cy="890.75" r="4.1"/>
<circle cx="159.50" cy="890.75" r="4.1"/>
<circle cx="172.50" cy="890.75" r="4.1"/>
<circle cx="130.00" cy="908.75" r="4.1"/>
<circle cx="144.25" cy="908.75" r="4.1"/>
<circle cx="172.50" cy="908.75" r="4.1"/>
</g><path d="M195 49.3h2v1.4h-2zM214.5 48.6h2v1.8h-2zM222.8 43.3h2.4v2.4h-2.4z" fill="#fff"/></svg></body></html>
